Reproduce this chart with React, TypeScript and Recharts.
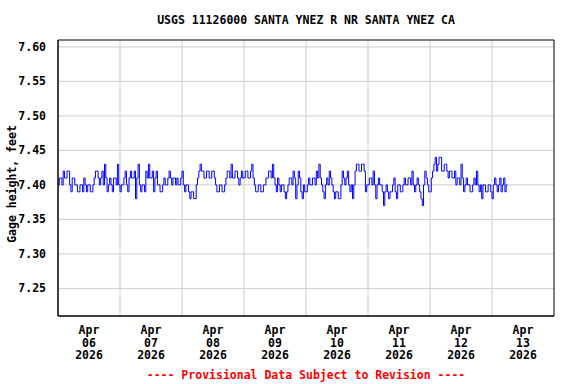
import React from "react";
import { CartesianGrid, Line, LineChart, ReferenceArea, XAxis, YAxis } from "recharts";

// half-hourly gage height readings, feet (Apr 06 00:00 onward)
const apr06 = [
  7.40, 7.41, 7.41, 7.40, 7.42, 7.41, 7.41, 7.42, 7.42, 7.40, 7.39, 7.41,
  7.41, 7.40, 7.40, 7.39, 7.39, 7.40, 7.40, 7.39, 7.41, 7.40, 7.39, 7.40,
  7.40, 7.39, 7.39, 7.40, 7.41, 7.42, 7.42, 7.41, 7.40, 7.41, 7.42, 7.40,
  7.43, 7.41, 7.39, 7.40, 7.41, 7.40, 7.39, 7.41, 7.41, 7.40, 7.43, 7.40,
];
const apr07 = [
  7.39, 7.40, 7.40, 7.41, 7.42, 7.40, 7.39, 7.41, 7.42, 7.41, 7.41, 7.42,
  7.38, 7.41, 7.43, 7.40, 7.39, 7.40, 7.40, 7.39, 7.42, 7.41, 7.43, 7.41,
  7.41, 7.42, 7.39, 7.41, 7.42, 7.40, 7.40, 7.39, 7.39, 7.40, 7.41, 7.40,
  7.40, 7.41, 7.42, 7.41, 7.40, 7.41, 7.41, 7.40, 7.41, 7.40, 7.40, 7.41,
];
const apr08 = [
  7.42, 7.40, 7.39, 7.40, 7.40, 7.39, 7.38, 7.39, 7.39, 7.38, 7.38, 7.40,
  7.41, 7.42, 7.43, 7.42, 7.42, 7.41, 7.41, 7.42, 7.42, 7.41, 7.41, 7.42,
  7.42, 7.41, 7.40, 7.39, 7.39, 7.40, 7.40, 7.39, 7.39, 7.40, 7.41, 7.42,
  7.42, 7.41, 7.43, 7.41, 7.41, 7.42, 7.42, 7.41, 7.40, 7.41, 7.42, 7.41,
];
const apr09 = [
  7.41, 7.42, 7.42, 7.41, 7.41, 7.42, 7.43, 7.41, 7.40, 7.39, 7.39, 7.40,
  7.40, 7.39, 7.39, 7.40, 7.40, 7.41, 7.41, 7.42, 7.42, 7.41, 7.43, 7.41,
  7.40, 7.39, 7.41, 7.40, 7.39, 7.40, 7.40, 7.39, 7.38, 7.39, 7.40, 7.41,
  7.41, 7.40, 7.42, 7.41, 7.38, 7.40, 7.42, 7.41, 7.39, 7.38, 7.40, 7.39,
];
const apr10 = [
  7.39, 7.40, 7.41, 7.40, 7.40, 7.41, 7.41, 7.40, 7.42, 7.41, 7.43, 7.41,
  7.40, 7.39, 7.38, 7.40, 7.41, 7.40, 7.42, 7.41, 7.40, 7.39, 7.38, 7.39,
  7.39, 7.38, 7.38, 7.40, 7.42, 7.41, 7.40, 7.41, 7.42, 7.40, 7.39, 7.40,
  7.38, 7.40, 7.42, 7.43, 7.43, 7.42, 7.42, 7.43, 7.43, 7.42, 7.39, 7.40,
];
const apr11 = [
  7.40, 7.41, 7.41, 7.40, 7.42, 7.40, 7.38, 7.40, 7.41, 7.40, 7.40, 7.39,
  7.37, 7.39, 7.40, 7.39, 7.38, 7.39, 7.39, 7.40, 7.41, 7.39, 7.38, 7.40,
  7.40, 7.39, 7.39, 7.40, 7.41, 7.40, 7.40, 7.41, 7.41, 7.40, 7.42, 7.40,
  7.39, 7.40, 7.41, 7.40, 7.39, 7.38, 7.37, 7.40, 7.42, 7.41, 7.40, 7.39,
];
const apr12 = [
  7.39, 7.41, 7.42, 7.43, 7.44, 7.42, 7.43, 7.44, 7.44, 7.42, 7.42, 7.43,
  7.43, 7.42, 7.41, 7.42, 7.42, 7.41, 7.41, 7.42, 7.40, 7.41, 7.41, 7.40,
  7.43, 7.41, 7.39, 7.40, 7.41, 7.40, 7.40, 7.39, 7.39, 7.40, 7.41, 7.40,
  7.42, 7.40, 7.39, 7.40, 7.38, 7.40, 7.40, 7.39, 7.39, 7.40, 7.40, 7.39,
];
const apr13 = [7.38, 7.40, 7.41, 7.40, 7.39, 7.40, 7.41, 7.39, 7.40, 7.41, 7.39, 7.40, 7.40];

const dayLabels = ["06", "07", "08", "09", "10", "11", "12", "13"];
const monthLabel = "Apr";
const yearLabel = "2026";
const yTicks = [7.25, 7.3, 7.35, 7.4, 7.45, 7.5, 7.55, 7.6];

const days = [apr06, apr07, apr08, apr09, apr10, apr11, apr12, apr13];
const data = days.flatMap((vals, d) => vals.map((v, i) => ({ t: d * 24 + i / 2, gage: v })));

const labelTicks = dayLabels.map((_, i) => i * 24 + 12);
const midnights = dayLabels.slice(1).map((_, i) => (i + 1) * 24);

const font = "'DejaVu Sans Mono', monospace";

function DayTick(props: any) {
  const { x, y, payload } = props;
  const i = Math.round((payload.value - 12) / 24);
  return (
    <text x={x} y={y} textAnchor="middle" fontFamily={font} fontWeight="bold" fontSize={11.5} fill="#000">
      <tspan x={x} dy={10}>{monthLabel}</tspan>
      <tspan x={x} dy={12.7}>{dayLabels[i]}</tspan>
      <tspan x={x} dy={12.7}>{yearLabel}</tspan>
    </text>
  );
}

export default function App() {
  return (
    <div style={{ position: "absolute", left: 0, top: 0, width: 576, height: 384, background: "#fff", fontFamily: font, fontWeight: "bold", fontSize: 11.5 }}>
      <div style={{ position: "absolute", left: 58, width: 496, top: 13, textAlign: "center" }}>
        USGS 11126000 SANTA YNEZ R NR SANTA YNEZ CA
      </div>
      <div style={{ position: "absolute", left: 12, top: 184, width: 0, height: 0 }}>
        <div style={{ position: "absolute", transform: "translate(-50%, -50%) rotate(-90deg)", whiteSpace: "nowrap" }}>
          Gage height, feet
        </div>
      </div>
      <div style={{ position: "absolute", left: 58, width: 496, top: 368, textAlign: "center", color: "#ff0000" }}>
        ---- Provisional Data Subject to Revision ----
      </div>
      <LineChart width={576} height={384} data={data} margin={{ top: 40, right: 22, bottom: 0, left: 0 }}>
        <CartesianGrid stroke="#cccccc" strokeWidth={1} verticalValues={midnights} horizontalValues={yTicks} />
        <XAxis
          dataKey="t"
          type="number"
          domain={[0, 192]}
          ticks={labelTicks}
          interval={0}
          height={68}
          tickLine={false}
          axisLine={{ stroke: "#000" }}
          tick={<DayTick />}
        />
        <YAxis
          type="number"
          domain={[7.21, 7.61]}
          ticks={yTicks}
          interval={0}
          width={58}
          tickLine={false}
          axisLine={{ stroke: "#000" }}
          tickFormatter={(v: number) => v.toFixed(2)}
          tick={{ fill: "#000", fontFamily: font, fontWeight: "bold", fontSize: 11.5 }}
          tickMargin={6}
        />
        <ReferenceArea x1={0} x2={192} y1={7.21} y2={7.61} fill="none" stroke="#000" strokeWidth={1} />
        <Line type="stepAfter" dataKey="gage" stroke="#0000ff" strokeWidth={1} dot={false} isAnimationActive={false} />
      </LineChart>
    </div>
  );
}
